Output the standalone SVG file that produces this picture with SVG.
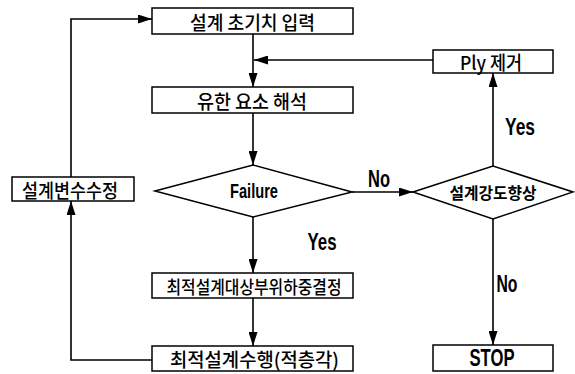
<svg xmlns="http://www.w3.org/2000/svg" width="575" height="374" viewBox="0 0 575 374">
<style>
.box{fill:#fff;stroke:#000;stroke-width:1.5}
.ln{fill:none;stroke:#000;stroke-width:1.6}
.kr{font-family:"Noto Sans CJK KR","Noto Sans",sans-serif;font-size:19px;font-weight:500;fill:#000;text-anchor:middle;dominant-baseline:central}
.en{font-family:"Liberation Sans",Arial,sans-serif;font-weight:bold;fill:#000;text-anchor:middle}
</style>
<defs>
<marker id="ah" viewBox="0 0 14 9" refX="14" refY="4.5" markerWidth="14" markerHeight="9" markerUnits="userSpaceOnUse" orient="auto">
<path d="M0,0 L14,4.5 L0,9 Z" fill="#000"/>
</marker>
</defs>
<rect width="575" height="374" fill="#fff"/>
<g id="connectors">
<line class="ln" x1="253" y1="34" x2="253" y2="87" marker-end="url(#ah)"/>
<line class="ln" x1="433" y1="60" x2="254" y2="60" marker-end="url(#ah)"/>
<line class="ln" x1="253" y1="113" x2="253" y2="165" marker-end="url(#ah)"/>
<line class="ln" x1="352" y1="192" x2="413" y2="192" marker-end="url(#ah)"/>
<line class="ln" x1="493" y1="166" x2="493" y2="73" marker-end="url(#ah)"/>
<line class="ln" x1="493" y1="219" x2="493" y2="345" marker-end="url(#ah)"/>
<line class="ln" x1="253" y1="217" x2="253" y2="273" marker-end="url(#ah)"/>
<line class="ln" x1="253" y1="298" x2="253" y2="346" marker-end="url(#ah)"/>
<polyline class="ln" points="152,360 71,360 71,201" marker-end="url(#ah)"/>
<polyline class="ln" points="71,177 71,19 152,19" marker-end="url(#ah)"/>
<text class="en" x="379" y="187" font-size="23" textLength="22" lengthAdjust="spacingAndGlyphs">No</text>
<text class="en" x="322" y="250" font-size="23" textLength="29" lengthAdjust="spacingAndGlyphs">Yes</text>
<text class="en" x="520" y="135" font-size="23" textLength="30" lengthAdjust="spacingAndGlyphs">Yes</text>
<text class="en" x="507" y="292" font-size="23" textLength="21" lengthAdjust="spacingAndGlyphs">No</text>
</g>
<g id="n-init">
<rect class="box" x="152" y="8" width="201" height="26"/>
<text class="kr" x="252.5" y="21" textLength="125" lengthAdjust="spacingAndGlyphs">설계 초기치 입력</text>
</g>
<g id="n-fea">
<rect class="box" x="152" y="87" width="201" height="26"/>
<text class="kr" x="252" y="100" textLength="110" lengthAdjust="spacingAndGlyphs">유한 요소 해석</text>
</g>
<g id="n-ply">
<rect class="box" x="433" y="50" width="120" height="23"/>
<text class="kr" x="491" y="61.5" textLength="62" lengthAdjust="spacingAndGlyphs">Ply 제거</text>
</g>
<g id="n-modify">
<rect class="box" x="12" y="177" width="122" height="24"/>
<text class="kr" x="70" y="189" textLength="96" lengthAdjust="spacingAndGlyphs">설계변수수정</text>
</g>
<g id="n-failure">
<polygon class="box" points="155,191 253,165 352,192 253,217"/>
<text class="en" x="254" y="198" font-size="21" textLength="48" lengthAdjust="spacingAndGlyphs">Failure</text>
</g>
<g id="n-strength">
<polygon class="box" points="413,192 493,166 573,192 493,219"/>
<text class="kr" x="493" y="192" style="font-size:16px;font-weight:bold" textLength="87" lengthAdjust="spacingAndGlyphs">설계강도향상</text>
</g>
<g id="n-target">
<rect class="box" x="152" y="273" width="201" height="25"/>
<text class="kr" x="254" y="285.5" style="font-size:18px" textLength="175" lengthAdjust="spacingAndGlyphs">최적설계대상부위하중결정</text>
</g>
<g id="n-optimize">
<rect class="box" x="152" y="346" width="201" height="25"/>
<text class="kr" x="254.5" y="358.5" textLength="169" lengthAdjust="spacingAndGlyphs">최적설계수행(적층각)</text>
</g>
<g id="n-stop">
<rect class="box" x="433" y="345" width="120" height="26"/>
<text class="en" x="492" y="366" font-size="23" textLength="45" lengthAdjust="spacingAndGlyphs">STOP</text>
</g>
</svg>
